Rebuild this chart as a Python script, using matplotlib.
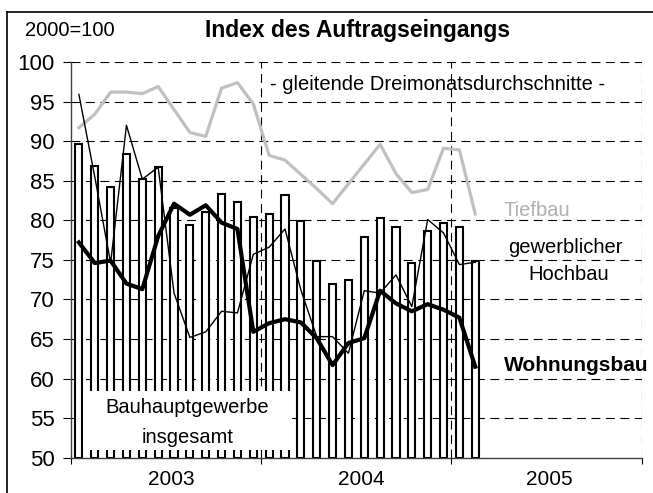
import matplotlib.pyplot as plt
import numpy as np
from matplotlib.lines import Line2D
from matplotlib.patches import Rectangle

plt.rcParams['font.family'] = ['Liberation Sans', 'DejaVu Sans']

# Monatswerte Jan 2003 - Feb 2005
bauhaupt = [89.6, 86.9, 84.2, 88.4, 85.2, 86.7, 81.5, 79.4, 81.1, 83.3, 82.3, 80.4,
            80.8, 83.2, 79.9, 74.8, 71.9, 72.4, 77.9, 80.3, 79.1, 74.6, 78.7, 79.6,
            79.1, 74.8]
tiefbau = [91.7, 93.4, 96.2, 96.2, 96.0, 96.9, 94.0, 91.1, 90.6, 96.7, 97.4, 94.7,
           88.2, 87.6, 85.8, 84.0, 82.1, 84.6, 87.1, 89.6, 85.9, 83.5, 83.9, 89.1,
           88.9, 80.8]
hochbau = [95.9, 85.5, 74.6, 92.0, 85.2, 86.7, 70.8, 65.2, 65.9, 68.5, 68.3, 75.7,
           76.6, 78.9, 71.2, 65.3, 65.3, 63.2, 71.1, 70.8, 73.1, 69.1, 80.1, 78.4,
           74.4, 74.7]
wohnungsbau = [77.2, 74.6, 74.9, 72.0, 71.3, 78.0, 82.1, 80.7, 81.9, 79.7, 78.9, 65.9,
               67.0, 67.5, 67.1, 65.1, 61.7, 64.5, 65.1, 71.1, 69.5, 68.5, 69.4, 68.7,
               67.7, 61.5]
years = ['2003', '2004', '2005']

x = np.arange(len(bauhaupt)) + 0.5

fig = plt.figure(figsize=(6.53, 4.93), dpi=100)
ax = fig.add_axes([0.1087, 0.0716, 0.9827 - 0.1087, 0.8742 - 0.0716])

ax.set_xlim(0, 36)
ax.set_ylim(50, 100)

# Gitter
for v in range(55, 101, 5):
    ax.axhline(v, color='black', lw=0.8, dashes=(8, 5), zorder=0)
for m in [12, 24, 36]:
    ax.axvline(m, color='black', lw=0.8, dashes=(8, 5), zorder=0)

ax.bar(x, np.array(bauhaupt) - 50, width=0.45, bottom=50, color='white',
       edgecolor='black', linewidth=1.5, zorder=2)
ax.plot(x, tiefbau, color='#c0c0c0', lw=2.3, zorder=3)
ax.plot(x, hochbau, color='black', lw=1.0, zorder=4)
ax.plot(x, wohnungsbau, color='black', lw=3.0, zorder=5)

for s in ['top', 'right']:
    ax.spines[s].set_visible(False)
ax.spines['left'].set_linewidth(1.0)
ax.spines['bottom'].set_linewidth(1.0)
ax.spines['left'].set_color('#404040')
ax.spines['bottom'].set_color('#404040')

ax.set_yticks(range(50, 101, 5))
ax.tick_params(axis='y', labelsize=16, length=6, width=0.8, pad=6)
ax.set_xticks([0, 12, 24, 36])
ax.set_xticklabels([])
ax.set_xticks([6.3, 18.3, 30.2], minor=True)
ax.set_xticklabels(years, minor=True)
ax.tick_params(axis='x', which='major', length=4, width=0.8)
ax.tick_params(axis='x', which='minor', length=0, labelsize=15, pad=9)

# Kasten fuer Bauhauptgewerbe
ax.add_patch(Rectangle((0.76, 51.0), 13.2, 7.4, facecolor='white',
                       edgecolor='none', zorder=6))
ax.text(7.36, 56.3, 'Bauhauptgewerbe', ha='center', va='center', fontsize=14.5, zorder=7)
ax.text(7.36, 52.6, 'insgesamt', ha='center', va='center', fontsize=14.5, zorder=7)

ax.text(23.14, 97.1, '- gleitende Dreimonatsdurchschnitte -', ha='center', va='center',
        fontsize=14.5, zorder=7)
ax.text(27.3, 81.3, 'Tiefbau', ha='left', va='center', fontsize=14.5, color='#b0b0b0', zorder=7)
ax.text(31.2, 76.6, 'gewerblicher', ha='center', va='center', fontsize=14.5, zorder=7)
ax.text(31.37, 73.2, 'Hochbau', ha='center', va='center', fontsize=14.5, zorder=7)
ax.text(31.9, 61.7, 'Wohnungsbau', ha='center', va='center', fontsize=15,
        fontweight='bold', zorder=7)

fig.text(0.038, 0.939, '2000=100', ha='left', va='center', fontsize=14.5)
fig.text(0.5475, 0.939, 'Index des Auftragseingangs', ha='center', va='center',
         fontsize=16.5, fontweight='bold')

# Rahmen
fig.add_artist(Line2D([7 / 653, 1], [1 - 12 / 493, 1 - 12 / 493], color='black', lw=1.2,
                      transform=fig.transFigure))
fig.add_artist(Line2D([7 / 653, 7 / 653], [1 - 12 / 493, 0], color='black', lw=1.2,
                      transform=fig.transFigure))

fig.savefig('out.png', dpi=100)
